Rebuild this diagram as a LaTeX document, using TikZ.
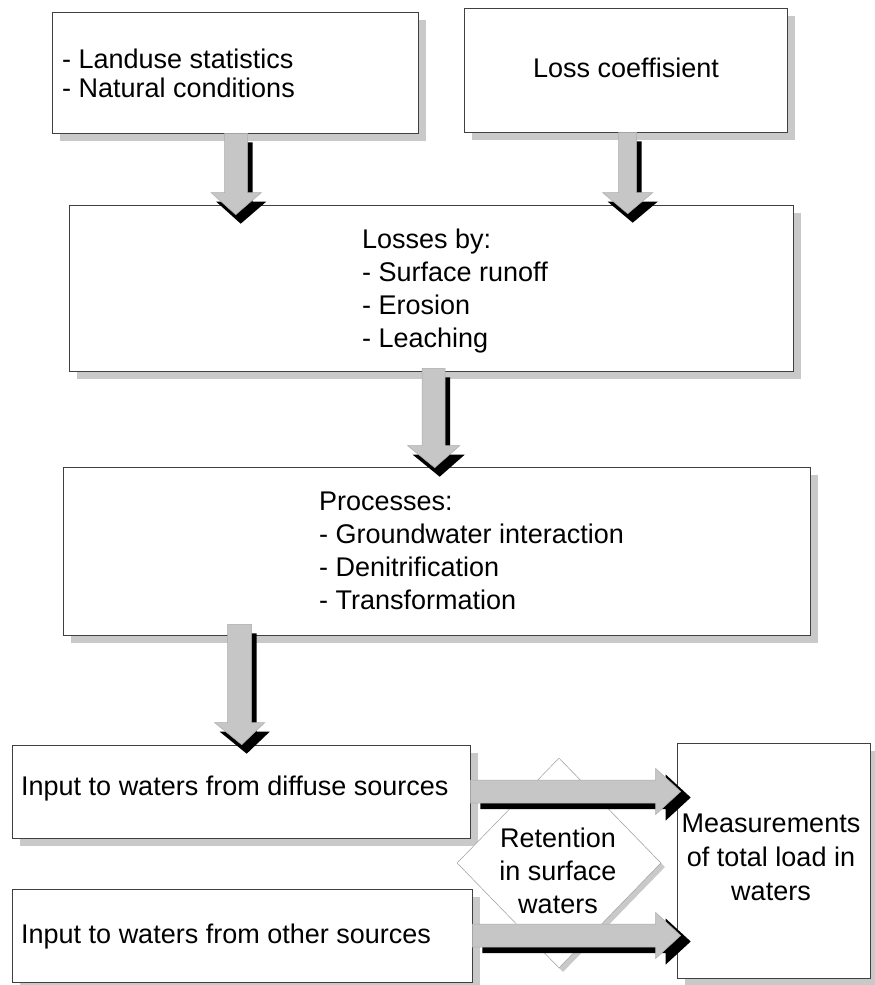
\documentclass[tikz,border=0pt]{standalone}
\usepackage{fontspec}
\setmainfont{Liberation Sans}
\usetikzlibrary{calc,shapes.geometric,shadows}
\tikzset{
  box/.style={draw=black!75, line width=0.6pt, fill=white, inner sep=0pt,
    general shadow={fill=gray!42, shadow xshift=8pt, shadow yshift=-8pt}},
  retbox/.style={diamond, draw=gray!75, line width=0.5pt, fill=white, inner sep=0pt,
    minimum width=204pt, minimum height=210pt,
    general shadow={fill=gray!42, shadow xshift=4pt, shadow yshift=-4pt}},
  txt/.style={inner sep=0pt, anchor=base west, font=\fontsize{27pt}{31pt}\selectfont},
  ctxt/.style={inner sep=0pt, anchor=base, font=\fontsize{27pt}{31pt}\selectfont},
  arrowbody/.style={fill=gray!45, draw=gray!65, line width=0.5pt},
  arrowshade/.style={fill=black},
}
% generic vertical block arrow path: #1 style, #2 top, #3 tip, #4 half shaft, #5 half head, #6 head length, #7 offset
\newcommand\vbpath[7]{%
  \path[#1] let \p1=($(#2)+#7$), \p2=($(#3)+#7$) in
    (\x1-#4,\y1) -- (\x1+#4,\y1) -- (\x1+#4,\y2+#6) -- (\x1+#5,\y2+#6) -- (\x2,\y2)
    -- (\x1-#5,\y2+#6) -- (\x1-#4,\y2+#6) -- cycle;
}
\newcommand\hbpath[7]{%
  \path[#1] let \p1=($(#2)+#7$), \p2=($(#3)+#7$) in
    (\x1,\y1+#4) -- (\x2-#6,\y1+#4) -- (\x2-#6,\y1+#5) -- (\x2,\y2)
    -- (\x2-#6,\y1-#5) -- (\x2-#6,\y1-#4) -- (\x1,\y1-#4) -- cycle;
}
% block arrow with black drop shade
\newcommand\vblockarrow[5]{%
  \vbpath{arrowshade}{#1}{#2}{#3}{#4}{#5}{(5,9)}
  \vbpath{arrowbody}{#1}{#2}{#3}{#4}{#5}{(0,0)}
}
\newcommand\hblockarrow[5]{%
  \hbpath{arrowshade}{#1}{#2}{#3}{#4}{#5}{(10,6)}
  \hbpath{arrowbody}{#1}{#2}{#3}{#4}{#5}{(0,0)}
}
\begin{document}
\begin{tikzpicture}[x=1pt, y=-1pt]
  \useasboundingbox[fill=white] (0,0) rectangle (875,985);

  % boxes
  \node[box, minimum width=366pt, minimum height=121pt] (b1) at (235,72.5) {};
  \node[box, minimum width=323pt, minimum height=124pt] (b2) at (625.5,70) {};
  \node[box, minimum width=724pt, minimum height=166pt] (b3) at (431,288) {};
  \node[box, minimum width=747pt, minimum height=168pt] (b4) at (436.5,551) {};
  \node[box, minimum width=458pt, minimum height=93pt] (b5) at (241,791.5) {};
  \node[box, minimum width=460pt, minimum height=93pt] (b6) at (242,935.5) {};
  \node[box, minimum width=193pt, minimum height=235pt] (b7) at (773.5,860.5) {};
  \node[retbox] (d) at (559,863) {};

  % connector anchors
  \coordinate (a1s) at ($(b1.south west)+(184.5,0)$);
  \coordinate (a1e) at ($(b3.north west)+(167,10)$);
  \coordinate (a2s) at ($(b2.south west)+(164,0)$);
  \coordinate (a2e) at ($(b3.north west)+(559,9)$);
  \coordinate (a3s) at ($(b3.south west)+(365,-3)$);
  \coordinate (a3e) at ($(b4.north west)+(372,1)$);
  \coordinate (a4s) at ($(b4.south west)+(177,-11)$);
  \coordinate (a4e) at ($(b5.north west)+(230,0)$);
  \coordinate (a5e) at ($(b5.east -| b7.west)+(4,0)$);
  \coordinate (a6e) at ($(b6.east -| b7.west)+(4,0)$);

  % block arrows
  \vblockarrow{a1s}{a1e}{11.5pt}{25pt}{22pt}
  \vblockarrow{a2s}{a2e}{9pt}{25pt}{21pt}
  \vblockarrow{a3s}{a3e}{11.5pt}{26pt}{22pt}
  \vblockarrow{a4s}{a4e}{12pt}{25pt}{22pt}
  \hblockarrow{b5.east}{a5e}{11.5pt}{23pt}{25pt}
  \hblockarrow{b6.east}{a6e}{11.5pt}{23pt}{25pt}

  % texts
  \node[txt] (t1a) at (62,68) {- Landuse statistics};
  \node[txt] (t1b) at (62,97) {- Natural conditions};
  \node[txt] (t2) at (533,77) {Loss coeffisient};
  \node[txt] (t3a) at (362,248) {Losses by:};
  \node[txt] (t3b) at (362,281) {- Surface runoff};
  \node[txt] (t3c) at (362,314) {- Erosion};
  \node[txt] (t3d) at (362,347) {- Leaching};
  \node[txt] (t4a) at (319,510) {Processes:};
  \node[txt] (t4b) at (319,543) {- Groundwater interaction};
  \node[txt] (t4c) at (319,576) {- Denitrification};
  \node[txt] (t4d) at (319,609) {- Transformation};
  \node[txt] (t5) at (21,795) {Input to waters from diffuse sources};
  \node[txt] (t6) at (21,943) {Input to waters from other sources};
  \node[ctxt] (t7a) at (771,832) {Measurements};
  \node[ctxt] (t7b) at (771,866) {of total load in};
  \node[ctxt] (t7c) at (771,900) {waters};
  \node[ctxt] (tda) at (558,847) {Retention};
  \node[ctxt] (tdb) at (558,880) {in surface};
  \node[ctxt] (tdc) at (558,913) {waters};
\end{tikzpicture}
\end{document}
